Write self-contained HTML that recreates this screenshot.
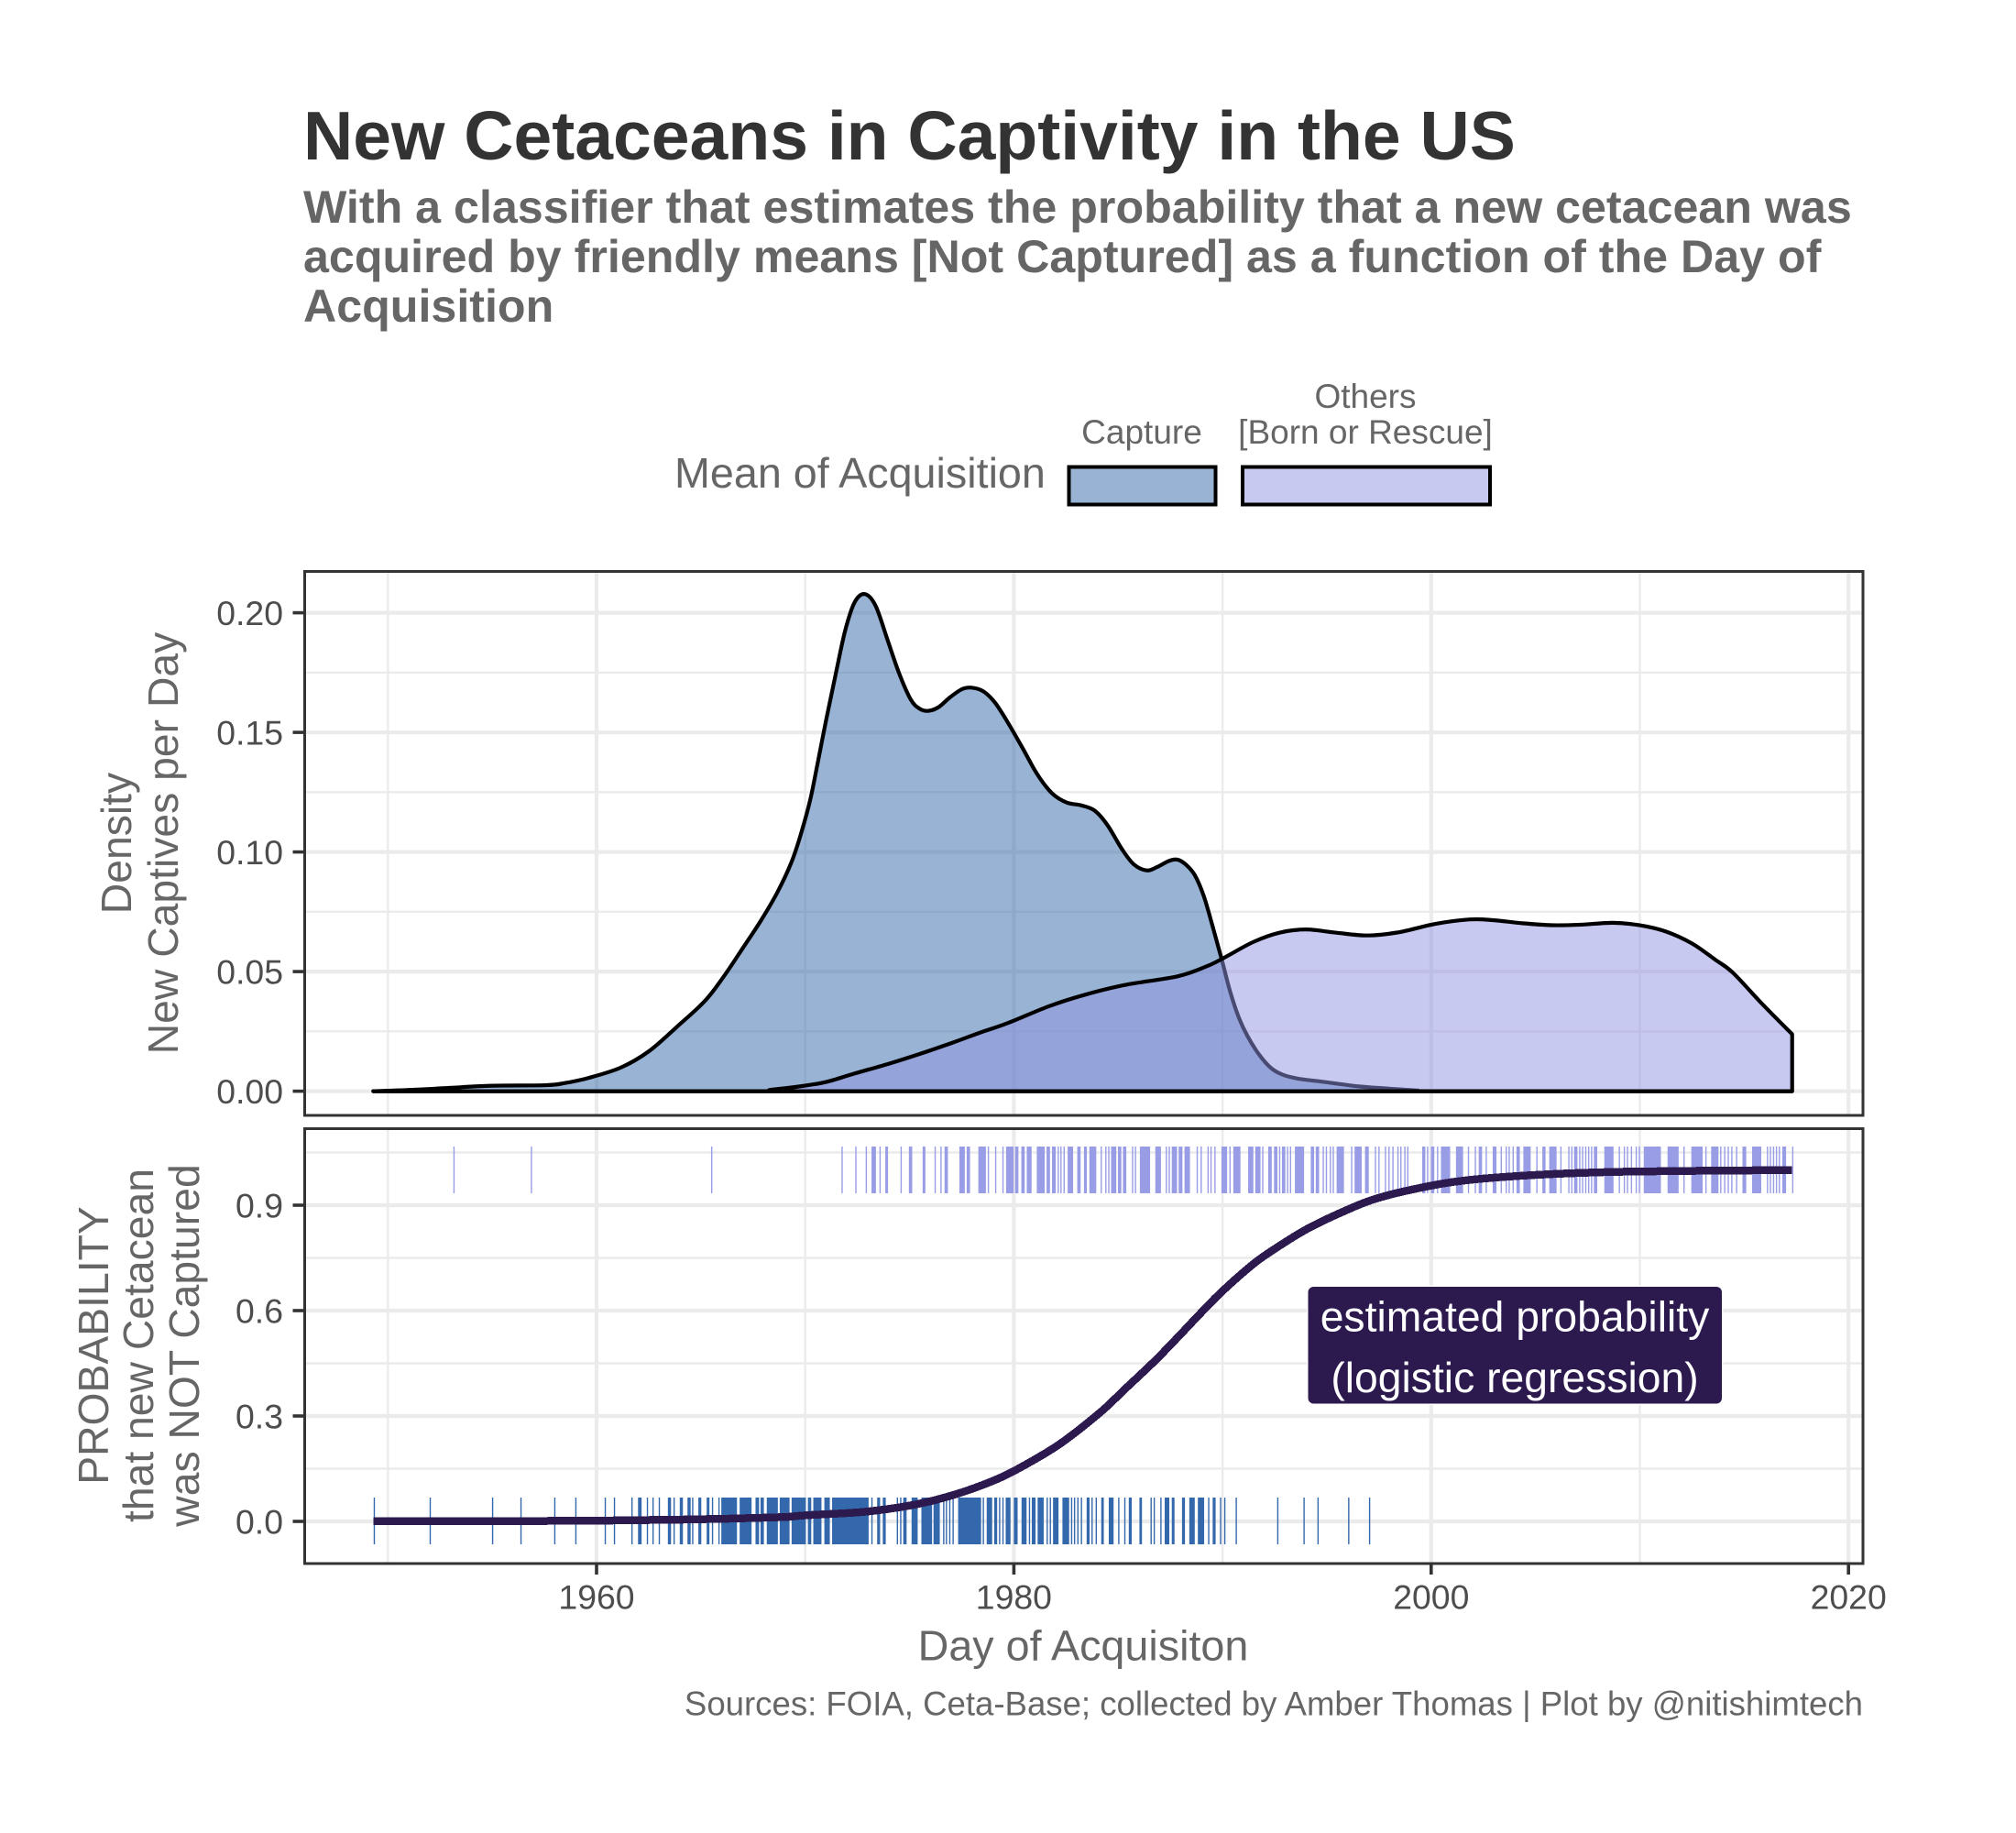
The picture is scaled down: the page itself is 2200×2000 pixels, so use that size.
<!DOCTYPE html>
<html lang="en">
<head>
<meta charset="utf-8">
<title>New Cetaceans in Captivity in the US</title>
<style>
html,body{margin:0;padding:0;background:#fff;}
svg{display:block;}
text{font-family:"Liberation Sans",Arial,sans-serif;}
</style>
</head>
<body>
<svg id="chart" xmlns="http://www.w3.org/2000/svg" width="2200" height="2000" viewBox="0 0 2200 2000">
  <rect x="0" y="0" width="2200" height="2000" fill="#ffffff"/>
  <text x="331" y="174" font-size="75.1" font-weight="700" fill="#333333">New Cetaceans in Captivity in the US</text>
  <g font-size="50.2" font-weight="700" fill="#666666">
    <text x="331" y="243">With a classifier that estimates the probability that a new cetacean was</text>
    <text x="331" y="297">acquired by friendly means [Not Captured] as a function of the Day of</text>
    <text x="331" y="351">Acquisition</text>
  </g>
  <g>
    <text x="736" y="532" font-size="46.7" fill="#666666">Mean of Acquisition</text>
    <text x="1246" y="484" font-size="37" fill="#666666" text-anchor="middle">Capture</text>
    <text x="1490" y="445" font-size="37" fill="#666666" text-anchor="middle">Others</text>
    <text x="1490" y="484" font-size="37" fill="#666666" text-anchor="middle">[Born or Rescue]</text>
    <rect x="1166.5" y="509.5" width="160" height="41" fill="#3468ac" fill-opacity="0.5" stroke="#000" stroke-width="4"/>
    <rect x="1356" y="509.5" width="270" height="41" fill="#9194e2" fill-opacity="0.5" stroke="#000" stroke-width="4"/>
  </g>
  <g id="density-panel"></g>
  <g id="probability-panel"></g>
  <g font-size="46.3" fill="#666666" text-anchor="middle">
    <text transform="translate(143,920) rotate(-90)">Density</text>
    <text transform="translate(194,920) rotate(-90)">New Captives per Day</text>
  </g>
  <g font-size="46.3" fill="#666666" text-anchor="middle">
    <text transform="translate(118,1468) rotate(-90)">PROBABILITY</text>
    <text transform="translate(167,1468) rotate(-90)">that new Cetacean</text>
    <text transform="translate(217,1468) rotate(-90)">was NOT Captured</text>
  </g>
  <text x="1182" y="1811.5" font-size="46.7" fill="#666666" text-anchor="middle">Day of Acquisiton</text>
  <text x="2033" y="1871.5" font-size="36.6" fill="#666666" text-anchor="end">Sources: FOIA, Ceta-Base; collected by Amber Thomas | Plot by @nitishimtech</text>
</svg>
<script>
const xMajorTicks = [1960, 1980, 2000, 2020];
const xMinorTicks = [1950, 1970, 1990, 2010];
const densityMajorTicks = [0, 0.05, 0.10, 0.15, 0.20];
const densityTickLabels = ["0.00", "0.05", "0.10", "0.15", "0.20"];
const densityMinorTicks = [0.025, 0.075, 0.125, 0.175];
const probMajorTicks = [0, 0.3, 0.6, 0.9];
const probTickLabels = ["0.0", "0.3", "0.6", "0.9"];
const probMinorTicks = [0.15, 0.45, 0.75, 1.05];

const captureYears = [1949.3,1951.3,1953.55,1955.1,1957.58,1958.48,1959.6,1961.17,1962.51,1963.85,1965.2,1966.1,1967.0,1967.89,1968.67,1969.34,1969.79,1970.24,1970.58,1971.02,1971.47,1971.92,1972.37,1972.86,1973.38,1973.94,1974.5,1975.06,1975.5,1975.91,1976.4,1976.96,1977.52,1977.97,1978.53,1979.09,1979.72,1980.42,1981.12,1981.82,1982.52,1983.22,1983.87,1984.48,1985.18,1985.74,1986.36,1986.86,1987.42,1987.84,1988.26,1988.68,1989.1,1989.52,1989.94,1990.36,1990.78,1991.2,1991.76,1992.32,1992.88,1993.59,1994.85,1996.53,1997.93,1999.33,2000.5,2017.3];
const captureDensity = [0,0.0006,0.0017,0.0023,0.0025,0.0034,0.0055,0.0099,0.0167,0.0269,0.0378,0.048,0.0597,0.0715,0.0832,0.0957,0.1074,0.1218,0.1364,0.1559,0.1747,0.1927,0.2044,0.2078,0.2028,0.1888,0.1747,0.1637,0.1598,0.159,0.1606,0.1648,0.1681,0.1687,0.1672,0.1625,0.154,0.1434,0.1325,0.1246,0.1207,0.1195,0.1173,0.1113,0.1012,0.0949,0.0923,0.0937,0.0962,0.0968,0.0946,0.0902,0.0816,0.0691,0.0558,0.0418,0.0308,0.023,0.0152,0.0097,0.0069,0.0053,0.0039,0.002,0.0011,0.0003,0,0];

const otherYears = [1949.3,1966.99,1968.34,1969.9,1971.02,1972.37,1973.94,1975.5,1977.07,1978.42,1979.72,1981.68,1983.36,1985.32,1987.84,1989.24,1990.08,1991.48,1992.75,1994.0,1995.41,1996.95,1998.49,2000.17,2001.85,2002.97,2004.37,2005.77,2007.17,2008.71,2009.97,2011.23,2012.49,2013.61,2014.45,2015.85,2017.3];
const otherDensity = [0,0,0.0006,0.0022,0.0039,0.0074,0.0113,0.0156,0.0203,0.0246,0.0285,0.0355,0.0402,0.0444,0.048,0.0522,0.0558,0.0624,0.0663,0.0676,0.0663,0.0651,0.0665,0.0699,0.0718,0.0715,0.0702,0.0694,0.0696,0.0704,0.0694,0.0668,0.0618,0.055,0.0496,0.0366,0.0238];

const logisticYears = [1949.3,1955,1960,1964,1966.5,1968.3,1969.2,1970.06,1972.6,1974.4,1975.94,1977.5,1978.9,1980.01,1982.13,1984.11,1985.28,1986.75,1987.92,1988.94,1989.97,1991.43,1992.46,1994.07,1995.82,1997.29,1999.36,2001.7,2005.28,2009.6,2017.3];
const logisticProb = [0,0.0005,0.002,0.005,0.008,0.011,0.013,0.0174,0.026,0.039,0.0565,0.0826,0.113,0.1435,0.2174,0.3087,0.374,0.4565,0.528,0.592,0.654,0.7304,0.774,0.833,0.8827,0.9174,0.948,0.971,0.987,0.9957,1.0];

const capturedRugYears = [1949.34,1952.02,1955.01,1956.37,1957.99,1959.0,1960.41,1960.85,1961.69,1962.01,1962.12,1962.43,1962.7,1963.0,1963.44,1963.53,1963.71,1964.01,1964.1,1964.38,1964.47,1964.6,1964.9,1964.98,1965.3,1965.37,1965.55,1965.86,1966.0,1966.08,1966.15,1966.25,1966.32,1966.39,1966.46,1966.58,1966.69,1966.88,1966.98,1967.07,1967.15,1967.22,1967.31,1967.39,1967.64,1967.75,1967.88,1967.98,1968.18,1968.27,1968.36,1968.48,1968.57,1968.65,1968.8,1968.86,1968.98,1969.03,1969.09,1969.21,1969.37,1969.44,1969.56,1969.62,1969.74,1969.82,1969.91,1969.99,1970.15,1970.25,1970.41,1970.49,1970.57,1970.65,1970.74,1970.94,1971.04,1971.14,1971.31,1971.43,1971.51,1971.63,1971.72,1971.82,1971.92,1972.02,1972.12,1972.21,1972.31,1972.41,1972.51,1972.61,1972.7,1972.8,1972.9,1973.0,1973.19,1973.47,1973.55,1973.74,1973.82,1974.41,1974.57,1974.72,1974.82,1975.12,1975.23,1975.35,1975.59,1975.66,1975.74,1975.84,1975.94,1976.04,1976.17,1976.29,1976.41,1976.63,1976.76,1976.92,1977.08,1977.35,1977.43,1977.51,1977.59,1977.66,1977.74,1977.82,1977.94,1978.06,1978.17,1978.29,1978.39,1978.53,1978.72,1978.82,1978.92,1979.08,1979.16,1979.31,1979.47,1979.63,1979.7,1979.8,1980.02,1980.14,1980.39,1980.49,1980.57,1980.74,1980.88,1981.0,1981.16,1981.27,1981.39,1981.59,1981.74,1981.9,1981.98,1982.1,1982.35,1982.43,1982.51,1982.61,1982.76,1982.9,1983.06,1983.23,1983.51,1983.59,1983.74,1983.94,1984.21,1984.27,1984.57,1984.66,1984.74,1985.02,1985.31,1985.53,1985.61,1986.04,1986.1,1986.57,1986.72,1987.04,1987.25,1987.33,1987.41,1987.59,1987.66,1988.08,1988.16,1988.43,1988.53,1988.63,1988.84,1988.92,1988.98,1989.08,1989.33,1989.55,1989.63,1989.9,1990.1,1990.65,1992.64,1993.9,1994.57,1996.04,1997.04];

const otherRugYears = [1953.16,1956.87,1965.51,1971.76,1972.42,1972.92,1973.2,1973.28,1973.35,1973.58,1973.86,1973.93,1974.59,1974.99,1975.09,1975.65,1975.72,1976.22,1976.5,1976.7,1976.8,1977.41,1977.51,1977.61,1977.76,1977.86,1978.32,1978.42,1978.52,1978.62,1978.77,1979.12,1979.47,1979.65,1979.75,1979.85,1979.95,1980.08,1980.18,1980.38,1980.48,1980.64,1980.74,1980.81,1981.12,1981.24,1981.34,1981.44,1981.59,1981.69,1981.85,1981.97,1982.12,1982.25,1982.4,1982.6,1982.7,1982.8,1983.06,1983.16,1983.38,1983.46,1983.64,1983.74,1983.81,1983.91,1984.18,1984.4,1984.54,1984.68,1984.78,1984.87,1985.01,1985.11,1985.25,1985.35,1985.68,1985.82,1986.06,1986.16,1986.25,1986.37,1986.49,1986.8,1986.92,1987.01,1987.3,1987.44,1987.59,1987.68,1987.78,1987.92,1988.04,1988.2,1988.3,1988.4,1988.78,1988.97,1989.3,1989.44,1989.63,1989.97,1990.06,1990.18,1990.35,1990.54,1990.63,1990.73,1990.82,1991.25,1991.35,1991.44,1991.59,1991.68,1991.78,1991.92,1992.21,1992.32,1992.49,1992.59,1992.73,1992.87,1992.97,1993.11,1993.25,1993.49,1993.59,1993.68,1993.78,1993.87,1994.25,1994.35,1994.49,1994.59,1994.82,1994.97,1995.16,1995.3,1995.49,1995.59,1995.68,1995.78,1996.18,1996.35,1996.44,1996.54,1996.63,1996.85,1996.97,1997.32,1997.49,1997.8,1997.97,1998.16,1998.4,1998.54,1998.73,1998.87,1999.59,1999.68,1999.82,2000.01,2000.11,2000.3,2000.49,2000.59,2000.68,2000.78,2000.87,2001.21,2001.3,2001.4,2001.49,2001.78,2002.11,2002.3,2002.4,2002.63,2002.97,2003.09,2003.35,2003.59,2003.73,2003.92,2004.11,2004.21,2004.44,2004.54,2004.63,2004.73,2005.06,2005.35,2005.44,2005.68,2005.78,2005.87,2005.97,2006.21,2006.59,2006.73,2006.87,2006.97,2007.11,2007.25,2007.4,2007.54,2007.68,2007.82,2007.92,2008.32,2008.42,2008.51,2008.61,2008.7,2009.01,2009.25,2009.4,2009.59,2009.82,2009.97,2010.21,2010.3,2010.4,2010.49,2010.59,2010.68,2010.78,2010.87,2010.97,2011.35,2011.44,2011.54,2011.63,2011.73,2011.82,2012.11,2012.49,2012.59,2012.68,2012.78,2012.87,2012.97,2013.16,2013.44,2013.54,2013.63,2013.73,2013.87,2014.06,2014.23,2014.4,2014.63,2014.94,2015.06,2015.4,2015.49,2015.59,2015.68,2015.78,2016.11,2016.25,2016.4,2016.54,2016.68,2016.85,2016.97,2017.32];

const annotationLines = ["estimated probability", "(logistic regression)"];

const NS = "http://www.w3.org/2000/svg";
const PANEL_LEFT = 332.5, PANEL_RIGHT = 2033;
const D_TOP = 623.5, D_BOTTOM = 1217;
const P_TOP = 1231.5, P_BOTTOM = 1706;
const RUG_MERGE_GAP = 0.125;

function xScale(year) { return 651 + (year - 1960) * 22.77; }
function yDensity(v) { return 1190.6 - v * 2610; }
function yProb(p) { return 1660 - p * 383.33; }

function make(tag, attrs, parent) {
  const el = document.createElementNS(NS, tag);
  for (const k in attrs) el.setAttribute(k, attrs[k]);
  parent.appendChild(el);
  return el;
}

function smoothPath(points) {
  let d = "M" + points[0][0].toFixed(2) + "," + points[0][1].toFixed(2);
  for (let i = 0; i < points.length - 1; i++) {
    const p0 = points[Math.max(i - 1, 0)], p1 = points[i], p2 = points[i + 1], p3 = points[Math.min(i + 2, points.length - 1)];
    const c1x = p1[0] + (p2[0] - p0[0]) / 6, c1y = p1[1] + (p2[1] - p0[1]) / 6;
    const c2x = p2[0] - (p3[0] - p1[0]) / 6, c2y = p2[1] - (p3[1] - p1[1]) / 6;
    d += "C" + c1x.toFixed(2) + "," + c1y.toFixed(2) + " " + c2x.toFixed(2) + "," + c2y.toFixed(2) + " " + p2[0].toFixed(2) + "," + p2[1].toFixed(2);
  }
  return d;
}

function drawGrid(parent, top, bottom, yFn, majorY, minorY) {
  const grid = make("g", {}, parent);
  
  
  minorY.forEach(function (v) {
    const y = yFn(v);
    if (y < top || y > bottom) return;
    const l = make("line", { x1: PANEL_LEFT, x2: PANEL_RIGHT, y1: y, y2: y, stroke: "#ebebeb", "stroke-width": 2.4 }, grid);
    
    
  });
  xMinorTicks.forEach(function (yr) {
    const x = xScale(yr);
    const l = make("line", { x1: x, x2: x, y1: top, y2: bottom, stroke: "#ebebeb", "stroke-width": 2.4 }, grid);
    
    
  });
  majorY.forEach(function (v) {
    const y = yFn(v);
    const l = make("line", { x1: PANEL_LEFT, x2: PANEL_RIGHT, y1: y, y2: y, stroke: "#ebebeb", "stroke-width": 4.2 }, grid);
    
    
  });
  xMajorTicks.forEach(function (yr) {
    const x = xScale(yr);
    const l = make("line", { x1: x, x2: x, y1: top, y2: bottom, stroke: "#ebebeb", "stroke-width": 4.2 }, grid);
    
    
  });
}

function drawYAxis(parent, yFn, ticks, labels) {
  ticks.forEach(function (v, i) {
    const y = yFn(v);
    const t = make("line", { x1: PANEL_LEFT - 13, x2: PANEL_LEFT, y1: y, y2: y, stroke: "#333333", "stroke-width": 3.6 }, parent);
    
    
    const lab = make("text", { x: 309, y: y + 13.3, "font-size": 37.4, fill: "#4d4d4d", "text-anchor": "end" }, parent);
    
    
    lab.textContent = labels[i];
  });
}

function drawBorder(parent, top, bottom) {
  const b = make("rect", { x: PANEL_LEFT, y: top, width: PANEL_RIGHT - PANEL_LEFT, height: bottom - top, fill: "none", stroke: "#333333", "stroke-width": 3 }, parent);
  
  
}

function drawArea(parent, years, values, fill, name) {
  const pts = years.map(function (yr, i) { return [xScale(yr), yDensity(values[i])]; });
  const last = pts[pts.length - 1], first = pts[0], base = yDensity(0);
  const d = smoothPath(pts) + "L" + last[0].toFixed(2) + "," + base + "L" + first[0].toFixed(2) + "," + base + "Z";
  const area = make("path", { d: d, fill: fill, "fill-opacity": 0.5, stroke: "#000000", "stroke-width": 4.2, "stroke-linejoin": "round" }, parent);
  
  
}

function drawRug(parent, years, y1, y2, color, name) {
  const g = make("g", {}, parent);
  
  
  years.forEach(function (yr, i) {
    const x = xScale(yr);
    const next = years[i + 1];
    const closeToNext = next !== undefined && next - yr < RUG_MERGE_GAP;
    const w = closeToNext ? (xScale(next) - x) * 0.85 + 1 : 1.4;
    const tick = make("rect", { x: x - 0.5, y: y1, width: w, height: y2 - y1, fill: color }, g);
    
    
  });
}

const densityPanel = document.getElementById("density-panel");
drawGrid(densityPanel, D_TOP, D_BOTTOM, yDensity, densityMajorTicks, densityMinorTicks);
drawArea(densityPanel, captureYears, captureDensity, "#3468ac", "capture-density");
drawArea(densityPanel, otherYears, otherDensity, "#9194e2", "others-density");
drawYAxis(densityPanel, yDensity, densityMajorTicks, densityTickLabels);
drawBorder(densityPanel, D_TOP, D_BOTTOM);

const probPanel = document.getElementById("probability-panel");
drawGrid(probPanel, P_TOP, P_BOTTOM, yProb, probMajorTicks, probMinorTicks);
drawRug(probPanel, otherRugYears, 1251, 1302, "#989de6", "rug-others");
drawRug(probPanel, capturedRugYears, 1634, 1685, "#3468ac", "rug-capture");

const logisticLine = make("path", {
  d: smoothPath(logisticYears.map(function (yr, i) { return [xScale(yr), yProb(logisticProb[i])]; })),
  fill: "none", stroke: "#2c1a4f", "stroke-width": 8.5, "shape-rendering": "crispEdges"
}, probPanel);



const annotation = make("g", {}, probPanel);


const annotationBox = make("rect", { x: 1427.5, y: 1404, width: 451.5, height: 127.5, rx: 6, ry: 6, fill: "#2c1a4f", stroke: "#ffffff", "stroke-width": 3, "paint-order": "stroke" }, annotation);


annotationLines.forEach(function (line, i) {
  const t = make("text", { x: 1653, y: 1452.5 + i * 66.5, "font-size": 46.3, fill: "#ffffff", "text-anchor": "middle" }, annotation);
  
  
  t.textContent = line;
});

drawYAxis(probPanel, yProb, probMajorTicks, probTickLabels);
xMajorTicks.forEach(function (yr) {
  const x = xScale(yr);
  const t = make("line", { x1: x, x2: x, y1: P_BOTTOM, y2: 1718, stroke: "#333333", "stroke-width": 3.6 }, probPanel);
  
  
  const lab = make("text", { x: x, y: 1755.5, "font-size": 37.4, fill: "#4d4d4d", "text-anchor": "middle" }, probPanel);
  
  
  lab.textContent = String(yr);
});
drawBorder(probPanel, P_TOP, P_BOTTOM);
</script>
</body>
</html>
